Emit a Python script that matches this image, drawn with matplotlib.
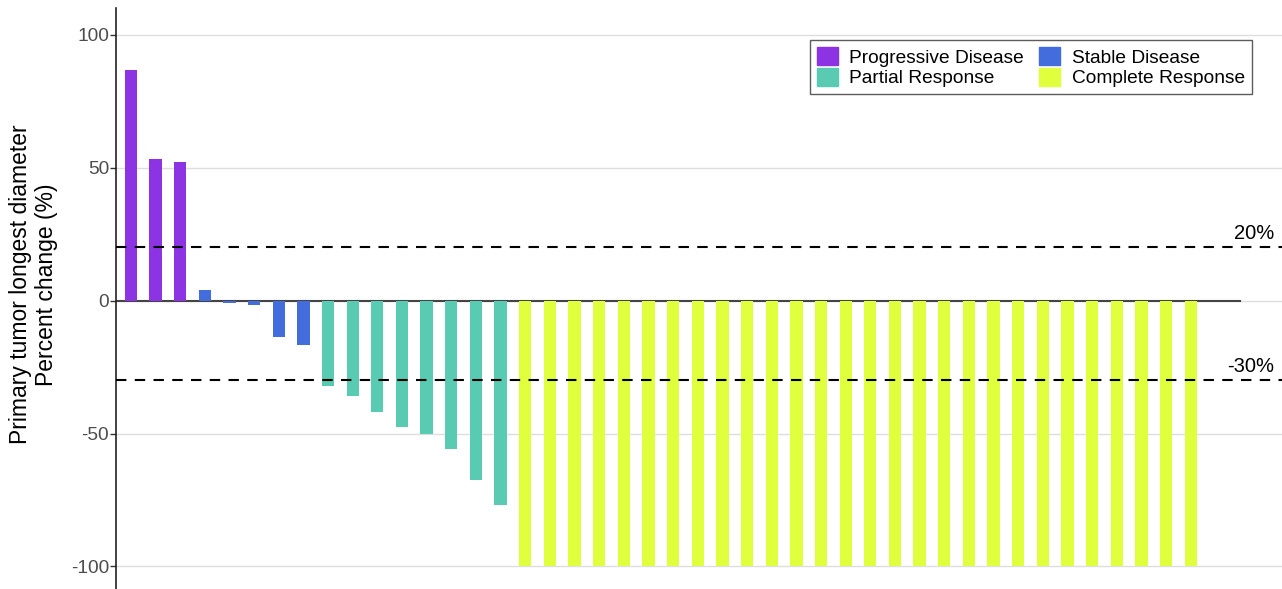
import matplotlib
matplotlib.use("Agg")
import matplotlib.pyplot as plt
from matplotlib.patches import Patch

plt.rcParams['font.family'] = ['Liberation Sans', 'DejaVu Sans']

# best response per patient, grouped by category
progressive = [86.8, 53.4, 52.3]
stable = [4.0, -0.8, -1.8, -13.7, -16.7]
partial = [-32.1, -35.8, -41.9, -47.5, -50.1, -55.8, -67.4, -76.8]
complete = [-100] * 28

groups = ["Progressive Disease", "Stable Disease", "Partial Response", "Complete Response"]
colors = {"Progressive Disease": "#8c34e4",
          "Stable Disease": "#436ddc",
          "Partial Response": "#5acbb3",
          "Complete Response": "#e0ff3c"}
series = [progressive, stable, partial, complete]

thresholds = [20, -30]
threshold_labels = ["20%", "-30%"]
yticks = [100, 50, 0, -50, -100]

fig = plt.figure(figsize=(12.82, 5.89), dpi=100)
ax = fig.add_axes([0.0905, 0.0, 0.9095, 0.986])

x = 0
for name, vals in zip(groups, series):
    xs = list(range(x, x + len(vals)))
    ax.bar(xs, vals, width=0.5, color=colors[name], zorder=3)
    x += len(vals)
n = x

ax.set_xlim(-0.6, 46.7)
ax.set_ylim(-108.5, 110)

for t in yticks:
    ax.axhline(t, color="#dedede", lw=1.0, zorder=1)
ax.plot([-0.6, n + 1], [0, 0], color="#444444", lw=1.5, zorder=2)

for t, lab in zip(thresholds, threshold_labels):
    ax.axhline(t, color="black", lw=1.5, ls=(0, (5, 4)), zorder=5)
    ax.text(46.4, t + 1.5, lab, ha="right", va="bottom", fontsize=14.5, color="black")

ax.set_yticks(yticks)
ax.set_yticklabels([str(t) for t in yticks], fontsize=13.8, color="#4d4d4d")
ax.set_xticks([])
ax.tick_params(axis="y", length=4, width=1, color="#333333", pad=1)
for s in ["top", "right", "bottom"]:
    ax.spines[s].set_visible(False)
ax.spines["left"].set_color("#222222")
ax.spines["left"].set_linewidth(1.2)

ax.set_ylabel("Primary tumor longest diameter\nPercent change (%)", fontsize=16.5,
              linespacing=1.15)
ax.yaxis.set_label_coords(-0.05, 0.524)

handles = [Patch(facecolor=colors[g], edgecolor=colors[g], label=g) for g in
           ["Progressive Disease", "Partial Response", "Stable Disease", "Complete Response"]]
leg = ax.legend(handles=handles, ncol=2, loc="upper right", bbox_to_anchor=(0.974, 0.945),
                fontsize=13.8, frameon=True, fancybox=False, handlelength=1.1, handleheight=1.1,
                handletextpad=0.6, columnspacing=0.8, labelspacing=0.05, borderpad=0.35,
                borderaxespad=0.0, edgecolor="#333333")
leg.get_frame().set_linewidth(1.0)

fig.savefig("out.png", dpi=100)
